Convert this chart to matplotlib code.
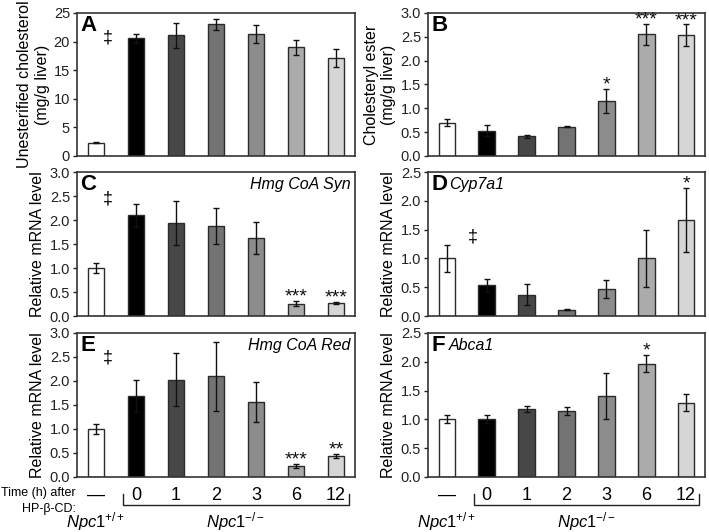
import matplotlib
matplotlib.use("Agg")
import matplotlib.pyplot as plt

plt.rcParams['font.family'] = ['Liberation Sans', 'DejaVu Sans']
plt.rcParams['mathtext.fontset'] = 'custom'
plt.rcParams['mathtext.rm'] = 'Liberation Sans'
plt.rcParams['mathtext.it'] = 'Liberation Sans:italic'

# categories (time after HP-beta-CD)
categories = ['—', '0', '1', '2', '3', '6', '12']
bar_colors = ['#ffffff', '#000000', '#474747', '#737373', '#8c8c8c', '#ababab', '#d6d6d6']

# panel data: means, errors, significance marks
a_mean = [2.3, 20.6, 21.1, 23.0, 21.3, 19.0, 17.1]
a_err = [0.1, 0.8, 2.2, 0.9, 1.6, 1.3, 1.6]
a_sig = ['', '', '', '', '', '', '']

b_mean = [0.70, 0.53, 0.41, 0.61, 1.16, 2.55, 2.53]
b_err = [0.07, 0.11, 0.04, 0.01, 0.25, 0.22, 0.23]
b_sig = ['', '', '', '', '*', '***', '***']

c_mean = [1.00, 2.10, 1.94, 1.88, 1.63, 0.26, 0.27]
c_err = [0.11, 0.24, 0.46, 0.37, 0.33, 0.05, 0.02]
c_sig = ['', '', '', '', '', '***', '***']

d_mean = [1.00, 0.53, 0.37, 0.11, 0.47, 1.00, 1.67]
d_err = [0.23, 0.12, 0.18, 0.01, 0.15, 0.50, 0.56]
d_sig = ['', '', '', '', '', '', '*']

e_mean = [1.00, 1.69, 2.03, 2.10, 1.56, 0.23, 0.44]
e_err = [0.10, 0.34, 0.55, 0.72, 0.41, 0.05, 0.04]
e_sig = ['', '', '', '', '', '***', '**']

f_mean = [1.00, 1.01, 1.18, 1.14, 1.41, 1.97, 1.29]
f_err = [0.07, 0.07, 0.06, 0.07, 0.40, 0.15, 0.15]
f_sig = ['', '', '', '', '', '*', '']

W, H = 709, 532
fig = plt.figure(figsize=(W / 100, H / 100), dpi=100)


def px_axes(left, top, right, bottom):
    return fig.add_axes([left / W, 1 - bottom / H, (right - left) / W, (bottom - top) / H])


def draw_panel(ax, mean, err, sig, ymax, step, letter, gene=None, gene_right=False,
               dagger=None, ylabel='Relative mRNA level', show_x=False):
    x = list(range(len(categories)))
    ax.bar(x, mean, width=0.42, color=bar_colors, edgecolor='#2b2b2b', linewidth=1.0, zorder=2)
    ax.errorbar(x, mean, yerr=err, fmt='none', ecolor='#111111', elinewidth=1.0,
                capsize=2.5, capthick=1.0, zorder=3)
    for xi, m, e, s in zip(x, mean, err, sig):
        if s:
            ax.annotate(s, (xi, m + e), xytext=(0, -0.5), textcoords='offset points',
                        ha='center', va='baseline', fontsize=14, color='#111111')
    ax.set_xlim(-0.475, 6.475)
    ax.set_ylim(0, ymax)
    ticks = [i * step for i in range(int(round(ymax / step)) + 1)]
    ax.set_yticks(ticks)
    if step >= 1:
        ax.set_yticklabels([f'{t:.0f}' for t in ticks])
    else:
        ax.set_yticklabels([f'{t:.1f}' for t in ticks])
    ax.tick_params(axis='y', direction='out', length=3, width=1, labelsize=10.5,
                   colors='#222222', pad=2)
    for sp in ax.spines.values():
        sp.set_color('#333333')
        sp.set_linewidth(1.2)
    ax.set_ylabel(ylabel, fontsize=11.5, labelpad=3)
    if show_x:
        ax.set_xticks(x)
        ax.set_xticklabels(categories, fontsize=13)
        ax.tick_params(axis='x', length=0, pad=7)
    else:
        ax.set_xticks([])
    ax.text(0.012, 0.985, letter, transform=ax.transAxes, ha='left', va='top',
            fontsize=16, fontweight='bold')
    if gene:
        if gene_right:
            ax.text(0.985, 0.965, gene, transform=ax.transAxes, ha='right', va='top',
                    fontsize=11.5, style='italic')
        else:
            ax.text(0.075, 0.965, gene, transform=ax.transAxes, ha='left', va='top',
                    fontsize=11.5, style='italic')
    if dagger:
        ax.text(dagger[0], dagger[1], '‡', ha='center', va='center', fontsize=13)


def draw_bracket(ax):
    ax.plot([0.67, 0.67, 6.33, 6.33], [-0.12, -0.195, -0.195, -0.12],
            transform=ax.get_xaxis_transform(), clip_on=False, color='#222222', lw=1.0)
    ax.text(0, -0.35, r'$\mathit{Npc1}^{+/+}$', transform=ax.get_xaxis_transform(),
            ha='center', va='baseline', fontsize=12)
    ax.text(3.5, -0.35, r'$\mathit{Npc1}^{-/-}$', transform=ax.get_xaxis_transform(),
            ha='center', va='baseline', fontsize=12)


ax_a = px_axes(77, 13, 355, 156)
ax_b = px_axes(428, 13, 705, 156)
ax_c = px_axes(77, 172, 355, 316)
ax_d = px_axes(428, 172, 705, 316)
ax_e = px_axes(77, 333, 355, 477)
ax_f = px_axes(428, 333, 705, 477)

draw_panel(ax_a, a_mean, a_err, a_sig, 25, 5, 'A', dagger=(0.3, 20.6),
           ylabel='Unesterified cholesterol\n(mg/g liver)')
draw_panel(ax_b, b_mean, b_err, b_sig, 3.0, 0.5, 'B',
           ylabel='Cholesteryl ester\n(mg/g liver)')
draw_panel(ax_c, c_mean, c_err, c_sig, 3.0, 0.5, 'C', gene='Hmg CoA Syn', gene_right=True,
           dagger=(0.3, 2.44))
draw_panel(ax_d, d_mean, d_err, d_sig, 2.5, 0.5, 'D', gene='Cyp7a1', dagger=(0.65, 1.37))
draw_panel(ax_e, e_mean, e_err, e_sig, 3.0, 0.5, 'E', gene='Hmg CoA Red', gene_right=True,
           dagger=(0.3, 2.47), show_x=True)
draw_panel(ax_f, f_mean, f_err, f_sig, 2.5, 0.5, 'F', gene='Abca1', show_x=True)

draw_bracket(ax_e)
draw_bracket(ax_f)

fig.text(76 / W, 1 - 501 / H, 'Time (h) after\nHP-β-CD:', ha='right', va='center',
         fontsize=9, linespacing=1.35)

fig.savefig('out.png', dpi=100, facecolor='white')
